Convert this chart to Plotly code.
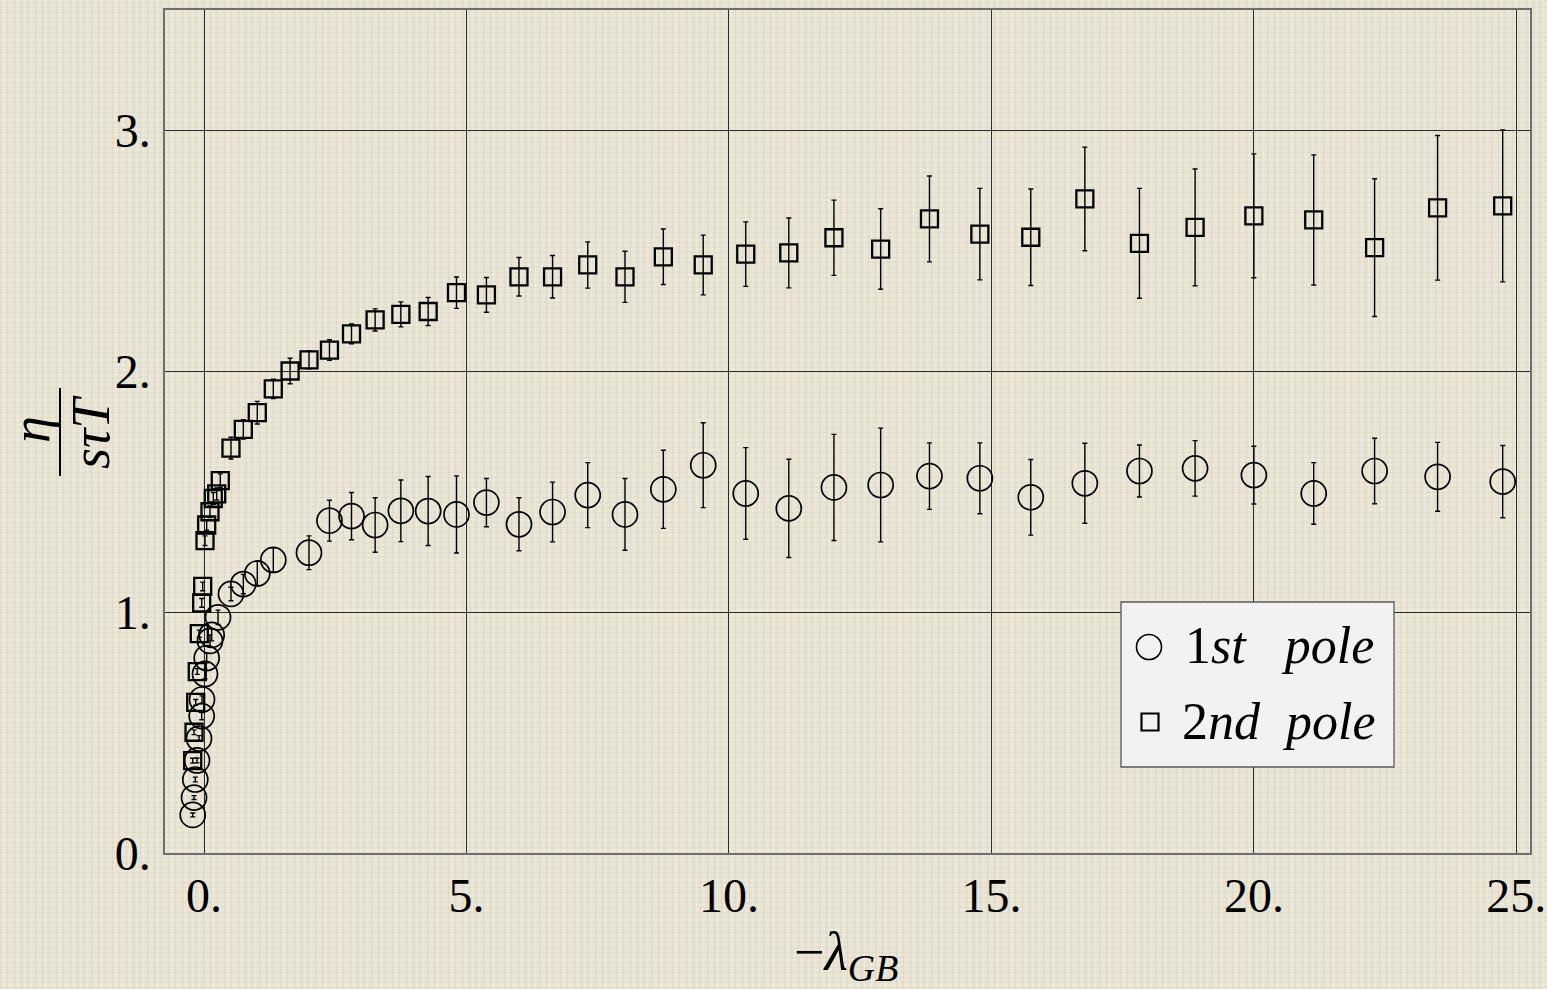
import base64
import plotly.graph_objects as go

# ---------------- data ----------------
x_pole1 = [-0.215, -0.19, -0.166, -0.133, -0.095, -0.044, -0.038, 0.019, 0.051, 0.114,
           0.146, 0.267, 0.514, 0.749, 1.015, 1.32, 2.0, 2.39, 2.81, 3.26,
           3.75, 4.27, 4.81, 5.38, 6.0, 6.64, 7.31, 8.02, 8.75, 9.51,
           10.32, 11.14, 12.0, 12.89, 13.82, 14.78, 15.75, 16.78, 17.82, 18.88,
           20.0, 21.14, 22.3, 23.5, 24.74]
y_pole1 = [0.158, 0.230, 0.305, 0.384, 0.475, 0.568, 0.637, 0.743, 0.809, 0.880,
           0.905, 0.978, 1.075, 1.116, 1.160, 1.216, 1.246, 1.379, 1.398, 1.361,
           1.42, 1.419, 1.405, 1.454, 1.364, 1.415, 1.485, 1.405, 1.509, 1.609,
           1.492, 1.430, 1.517, 1.527, 1.564, 1.555, 1.476, 1.534, 1.585, 1.596,
           1.568, 1.492, 1.585, 1.561, 1.541]
e_pole1 = [0.008, 0.008, 0.01, 0.01, 0.012, 0.015, 0.015, 0.02, 0.02, 0.025,
           0.025, 0.03, 0.028, 0.04, 0.05, 0.05, 0.07, 0.085, 0.098, 0.113,
           0.128, 0.143, 0.16, 0.10, 0.11, 0.124, 0.135, 0.149, 0.162, 0.176,
           0.19, 0.204, 0.22, 0.236, 0.138, 0.147, 0.157, 0.166, 0.108, 0.115,
           0.12, 0.128, 0.136, 0.143, 0.15]

x_pole2 = [-0.215, -0.19, -0.158, -0.128, -0.09, -0.044, -0.025, 0.019, 0.051, 0.114,
           0.177, 0.242, 0.31, 0.514, 0.749, 1.015, 1.32, 1.64, 2.0, 2.39,
           2.81, 3.26, 3.75, 4.27, 4.81, 5.38, 6.0, 6.64, 7.31, 8.02,
           8.75, 9.51, 10.32, 11.14, 12.0, 12.89, 13.82, 14.78, 15.75, 16.78,
           17.82, 18.88, 20.0, 21.14, 22.3, 23.5, 24.74]
y_pole2 = [0.383, 0.501, 0.625, 0.753, 0.910, 1.038, 1.106, 1.296, 1.361, 1.416,
           1.471, 1.490, 1.545, 1.680, 1.758, 1.827, 1.926, 2.0, 2.046, 2.087,
           2.154, 2.212, 2.235, 2.247, 2.325, 2.316, 2.391, 2.391, 2.440, 2.391,
           2.474, 2.440, 2.485, 2.490, 2.553, 2.506, 2.631, 2.568, 2.555, 2.714,
           2.530, 2.596, 2.644, 2.627, 2.512, 2.677, 2.685]
e_pole2 = [0.01, 0.01, 0.012, 0.012, 0.015, 0.018, 0.018, 0.02, 0.022, 0.024,
           0.025, 0.025, 0.028, 0.045, 0.04, 0.047, 0.04, 0.053, 0.037, 0.043,
           0.041, 0.046, 0.052, 0.058, 0.065, 0.072, 0.08, 0.088, 0.096, 0.106,
           0.115, 0.124, 0.134, 0.145, 0.156, 0.167, 0.178, 0.19, 0.20, 0.215,
           0.228, 0.242, 0.257, 0.27, 0.286, 0.30, 0.315]

x_ticks = [0, 5, 10, 15, 20, 25]
x_tick_labels = ["0.", "5.", "10.", "15.", "20.", "25."]
y_ticks = [0, 1, 2, 3]
y_tick_labels = ["0.", "1.", "2.", "3."]

legend_labels = ["1<i>st</i>\u00a0\u00a0\u00a0<i>pole</i>", "2<i>nd</i>\u00a0\u00a0<i>pole</i>"]

# ---------------- layout geometry ----------------
W, H = 1547, 989
L, R, T, B = 165, 1530, 10, 853
PW, PH = R - L, B - T


def px(xp):
    return (xp - L) / PW


def py(yp):
    return (B - yp) / PH


FONT = "Liberation Serif"
BG = "#e9e4d4"

# subtle woven background texture (decoration only)
svg = (
    '<svg xmlns="http://www.w3.org/2000/svg" width="%d" height="%d">'
    '<defs><pattern id="p" width="7" height="5" patternUnits="userSpaceOnUse">'
    '<rect width="7" height="5" fill="%s"/>'
    '<rect x="0" y="0" width="1" height="5" fill="#b8b09a" fill-opacity="0.18"/>'
    '<rect x="3" y="0" width="1" height="5" fill="#ffffff" fill-opacity="0.25"/>'
    '<rect x="0" y="2" width="7" height="1" fill="#b8b09a" fill-opacity="0.14"/>'
    '<rect x="5" y="4" width="2" height="1" fill="#ffffff" fill-opacity="0.2"/>'
    '</pattern></defs><rect width="100%%" height="100%%" fill="url(#p)"/></svg>'
) % (W, H, BG)
texture_uri = "data:image/svg+xml;base64," + base64.b64encode(svg.encode()).decode()

fig = go.Figure()
fig.add_trace(go.Scatter(
    x=x_pole1, y=y_pole1, mode="markers", name="1st pole", showlegend=False,
    marker=dict(symbol="circle-open", size=25, color="black", line=dict(width=1.7, color="black")),
    error_y=dict(type="data", array=e_pole1, color="black", thickness=1.4, width=2.5),
))
fig.add_trace(go.Scatter(
    x=x_pole2, y=y_pole2, mode="markers", name="2nd pole", showlegend=False,
    marker=dict(symbol="square-open", size=17, color="black", line=dict(width=2.3, color="black")),
    error_y=dict(type="data", array=e_pole2, color="black", thickness=1.4, width=2.5),
))

axis_common = dict(
    showgrid=True, gridcolor="#2a2a2a", gridwidth=1, automargin=False,
    zeroline=False, showline=True, mirror=True, linecolor="#6e6e6e", linewidth=1.5,
    ticks="", tickfont=dict(family=FONT, size=48, color="black"),
)

fig.update_xaxes(range=[-0.743, 25.26], tickvals=x_ticks, ticktext=x_tick_labels,
                 ticklabelstandoff=0, **axis_common)
fig.update_yaxes(range=[0, 3.498], tickvals=y_ticks, ticktext=y_tick_labels,
                 ticklabelstandoff=3, **axis_common)

shapes = []
annotations = []

# y-axis title as a rotated fraction  eta / (s tau T)
annotations.append(dict(xref="paper", yref="paper", x=px(31), y=py(430), text="<i>η</i>",
                        textangle=-90, showarrow=False, xanchor="center", yanchor="middle",
                        font=dict(family=FONT, size=54, color="black")))
shapes.append(dict(type="line", xref="paper", yref="paper", x0=px(60), x1=px(60),
                   y0=py(388), y1=py(476), line=dict(color="black", width=2)))
annotations.append(dict(xref="paper", yref="paper", x=px(91), y=py(432), text="<i>sτT</i>",
                        textangle=-90, showarrow=False, xanchor="center", yanchor="middle",
                        font=dict(family=FONT, size=54, color="black")))

# x-axis title
annotations.append(dict(xref="paper", yref="paper", x=px(846), y=py(955),
                        text="−<i>λ</i><sub><i>GB</i></sub>", showarrow=False,
                        xanchor="center", yanchor="middle",
                        font=dict(family=FONT, size=54, color="black")))

# legend box
shapes.append(dict(type="rect", xref="paper", yref="paper", x0=px(1121), x1=px(1394),
                   y0=py(767), y1=py(602), fillcolor="#f2f2f2",
                   line=dict(color="#5a5a5a", width=1.3), layer="above"))
shapes.append(dict(type="circle", xref="paper", yref="paper", x0=px(1136.5), x1=px(1161.5),
                   y0=py(659.5), y1=py(634.5), line=dict(color="black", width=1.6), layer="above"))
shapes.append(dict(type="rect", xref="paper", yref="paper", x0=px(1141.5), x1=px(1158.5),
                   y0=py(730.5), y1=py(713.5), line=dict(color="black", width=2.2), layer="above"))
annotations.append(dict(xref="paper", yref="paper", x=px(1183), y=py(645), text=legend_labels[0],
                        showarrow=False, xanchor="left", yanchor="middle",
                        font=dict(family=FONT, size=52, color="black")))
annotations.append(dict(xref="paper", yref="paper", x=px(1180), y=py(721), text=legend_labels[1],
                        showarrow=False, xanchor="left", yanchor="middle",
                        font=dict(family=FONT, size=52, color="black")))

fig.update_layout(
    width=W, height=H,
    margin=dict(l=L, r=W - R, t=T, b=H - B, pad=0, autoexpand=False),
    paper_bgcolor=BG, plot_bgcolor="rgba(0,0,0,0)",
    showlegend=False,
    shapes=shapes, annotations=annotations,
    font=dict(family=FONT, color="black"),
    images=[dict(source=texture_uri, xref="paper", yref="paper",
                 x=-L / PW, y=1 + T / PH, sizex=W / PW, sizey=H / PH,
                 sizing="stretch", xanchor="left", yanchor="top", layer="below")],
)

fig.write_html("out.html", config={"displayModeBar": False})
